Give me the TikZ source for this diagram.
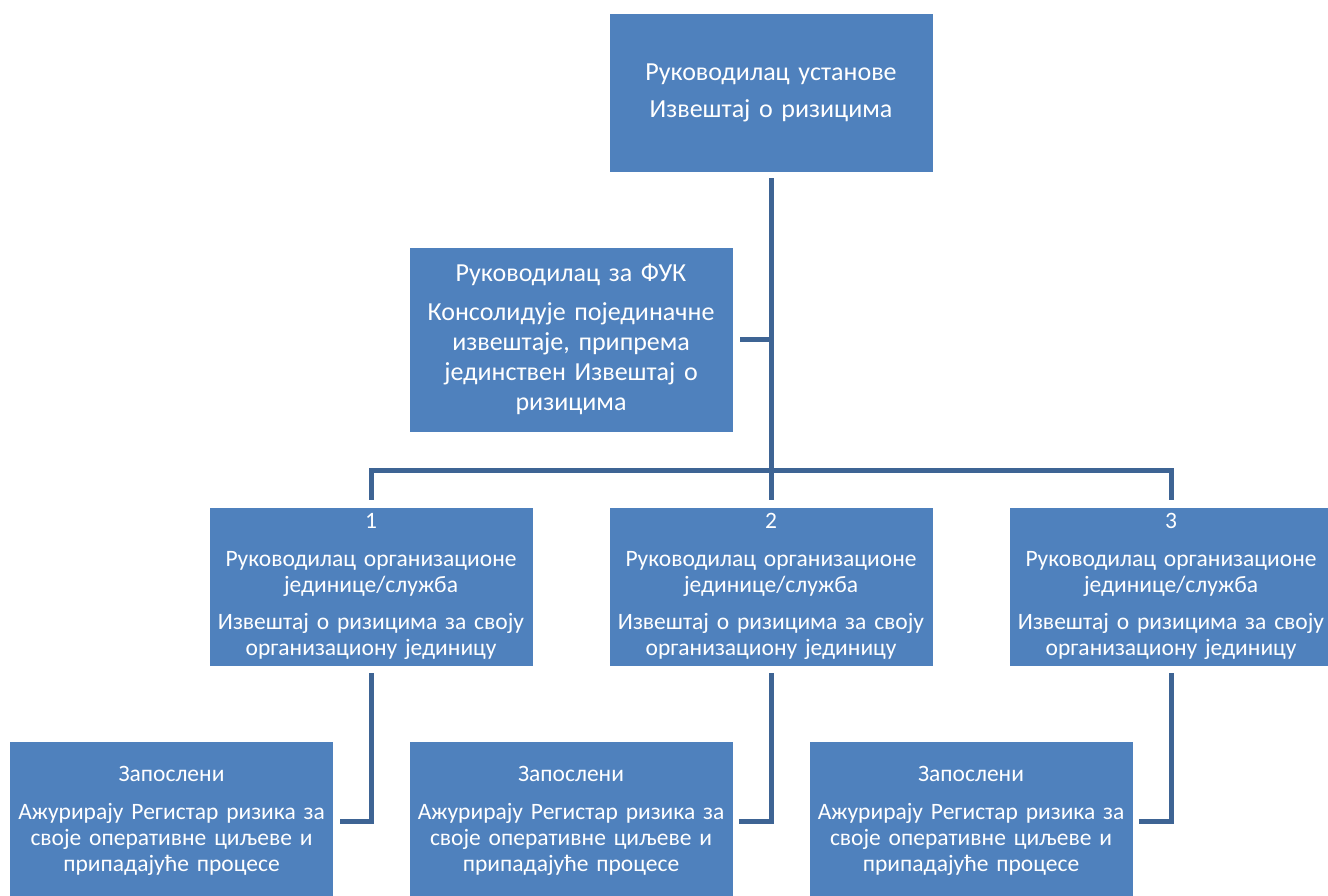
\documentclass[tikz,border=0pt]{standalone}
\usepackage{fontspec}
\setmainfont{Carlito}
\definecolor{boxblue}{RGB}{79,129,189}
\definecolor{lineblue}{RGB}{62,100,148}
\tikzset{
  box/.style={fill=boxblue, draw=white, line width=0.8pt, text=white, align=center,
    minimum width=324pt, inner sep=0pt, text width=320pt},
  bigtext/.style={font=\fontsize{26}{30}\selectfont},
  smalltext/.style={font=\fontsize{23.5}{26}\selectfont},
  conn/.style={draw=lineblue, line width=5pt}
}
\begin{document}
\begin{tikzpicture}[x=1pt,y=-1pt]
\useasboundingbox (0,0) rectangle (1328,896);
\node[box,bigtext,minimum height=159pt] (top) at (771,92.5)
  {Руководилац установе\\[7pt]Извештај о ризицима};
\node[box,bigtext,minimum height=185pt] (fuk) at (571,339.5)
  {Руководилац за ФУК\\[9pt]Консолидује појединачне\\извештаје, припрема\\јединствен Извештај о\\ризицима};
\node[box,smalltext,minimum height=159pt] (l1) at (371,586.5)
  {1\\[12pt]Руководилац организационе\\јединице/служба\\[11pt]Извештај о ризицима за своју\\организациону јединицу};
\node[box,smalltext,minimum height=159pt] (l2) at (771,586.5)
  {2\\[12pt]Руководилац организационе\\јединице/служба\\[11pt]Извештај о ризицима за своју\\организациону јединицу};
\node[box,smalltext,minimum height=159pt] (l3) at (1171,586.5)
  {3\\[12pt]Руководилац организационе\\јединице/служба\\[11pt]Извештај о ризицима за своју\\организациону јединицу};
\node[box,smalltext,minimum height=159pt] (e1) at (171.5,821)
  {Запослени\\[12pt]Ажурирају Регистар ризика за\\своје оперативне циљеве и\\припадајуће процесе};
\node[box,smalltext,minimum height=159pt] (e2) at (571,821)
  {Запослени\\[12pt]Ажурирају Регистар ризика за\\своје оперативне циљеве и\\припадајуће процесе};
\node[box,smalltext,minimum height=159pt] (e3) at (971,821)
  {Запослени\\[12pt]Ажурирају Регистар ризика за\\своје оперативне циљеве и\\припадајуће процесе};
\coordinate (bus) at (771,470);
\draw[conn, shorten <=6pt, shorten >=7pt] (top.south) -- (l2.north);
\draw[conn, shorten <=7pt] (fuk.east) -- (fuk.east -| top.south);
\draw[conn, shorten <=7pt, shorten >=7pt] (l1.north) -- (l1.north |- bus) -- (l3.north |- bus) -- (l3.north);
\draw[conn, shorten <=7pt, shorten >=6pt] (l1.south) |- (e1.east);
\draw[conn, shorten <=7pt, shorten >=6pt] (l2.south) |- (e2.east);
\draw[conn, shorten <=7pt, shorten >=6pt] (l3.south) |- (e3.east);
\end{tikzpicture}
\end{document}
